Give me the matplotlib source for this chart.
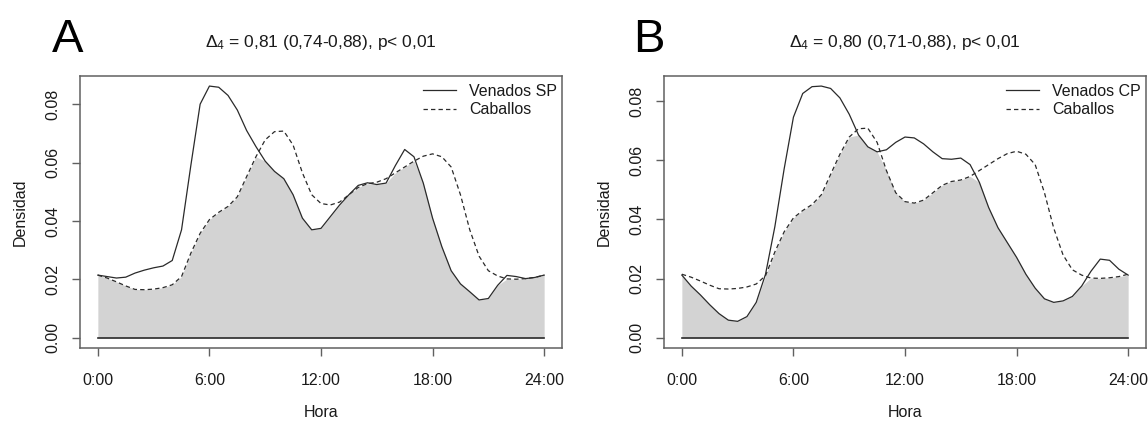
import numpy as np
import matplotlib
matplotlib.use("Agg")
import matplotlib.pyplot as plt

plt.rcParams["font.family"] = ["Liberation Sans", "DejaVu Sans"]
plt.rcParams["mathtext.fontset"] = "custom"
plt.rcParams["mathtext.rm"] = "Liberation Sans"
plt.rcParams["mathtext.it"] = "Liberation Sans:italic"

# hora del dia, cada media hora
hora = np.arange(0, 24.01, 0.5)

venados_sp = [0.0215, 0.0210, 0.0205, 0.0208, 0.0222, 0.0232, 0.0240, 0.0246,
              0.0265, 0.0370, 0.0590, 0.0800, 0.0862, 0.0858, 0.0830, 0.0780,
              0.0710, 0.0655, 0.0605, 0.0570, 0.0545, 0.0490, 0.0410, 0.0370,
              0.0375, 0.0415, 0.0455, 0.0490, 0.0522, 0.0531, 0.0525, 0.0530,
              0.0590, 0.0645, 0.0620, 0.0530, 0.0410, 0.0312, 0.0230, 0.0185,
              0.0158, 0.0130, 0.0135, 0.0180, 0.0214, 0.0210, 0.0203, 0.0207,
              0.0215]

venados_cp = [0.0212, 0.0175, 0.0145, 0.0112, 0.0082, 0.0060, 0.0056, 0.0072,
              0.0120, 0.0215, 0.0375, 0.0570, 0.0745, 0.0825, 0.0848, 0.0850,
              0.0842, 0.0810, 0.0755, 0.0685, 0.0645, 0.0628, 0.0635, 0.0660,
              0.0678, 0.0675, 0.0655, 0.0628, 0.0605, 0.0603, 0.0607, 0.0585,
              0.0525, 0.0440, 0.0372, 0.0322, 0.0272, 0.0215, 0.0168, 0.0132,
              0.0120, 0.0125, 0.0140, 0.0175, 0.0225, 0.0266, 0.0262, 0.0232,
              0.0212]

caballos = [0.0215, 0.0205, 0.0192, 0.0178, 0.0166, 0.0165, 0.0167, 0.0172,
            0.0182, 0.0210, 0.0290, 0.0358, 0.0405, 0.0430, 0.0450, 0.0483,
            0.0552, 0.0620, 0.0678, 0.0706, 0.0708, 0.0660, 0.0565, 0.0490,
            0.0460, 0.0455, 0.0465, 0.0490, 0.0515, 0.0528, 0.0533, 0.0545,
            0.0565, 0.0585, 0.0605, 0.0622, 0.0630, 0.0620, 0.0585, 0.0490,
            0.0370, 0.0280, 0.0230, 0.0212, 0.0202, 0.0201, 0.0203, 0.0207,
            0.0215]

xticks = [0, 6, 12, 18, 24]
xlabels = ["0:00", "6:00", "12:00", "18:00", "24:00"]
yticks = [0.00, 0.02, 0.04, 0.06, 0.08]

paneles = [
    ("A", "Venados SP", venados_sp, r"$\Delta_4$ = 0,81 (0,74-0,88), p< 0,01"),
    ("B", "Venados CP", venados_cp, r"$\Delta_4$ = 0,80 (0,71-0,88), p< 0,01"),
]

W, H = 1148, 421
fig = plt.figure(figsize=(W / 100, H / 100), dpi=100)

frame_col = "#606060"
line_col = "#2a2a2a"
txt_col = "#1a1a1a"

for i, (letra, nombre, venado, titulo) in enumerate(paneles):
    left_px = [80, 664][i]
    ax = fig.add_axes([left_px / W, (H - 348) / H, 482 / W, 272 / H])

    v = np.array(venado)
    c = np.array(caballos)
    m = max(v.max(), c.max())

    ax.fill_between(hora, 0, np.minimum(v, c), color="#d3d3d3", lw=0)
    ax.plot([0, 24], [0, 0], color=line_col, lw=1.2)
    ax.plot(hora, v, color=line_col, lw=0.9, label=nombre)
    ax.plot(hora, c, color=line_col, lw=0.9, ls=(0, (3.5, 2.5)), label="Caballos")

    ax.set_xlim(-0.96, 24.96)
    ax.set_ylim(-0.04 * m, 1.04 * m)
    ax.set_xticks(xticks)
    ax.set_xticklabels(xlabels)
    ax.set_yticks(yticks)
    ax.set_yticklabels(["%.2f" % t for t in yticks], rotation=90, va="center")

    for s in ax.spines.values():
        s.set_color(frame_col)
        s.set_linewidth(1.1)
    ax.tick_params(axis="both", colors=frame_col, length=6, width=1.0,
                   labelsize=11.5, labelcolor=txt_col)
    ax.tick_params(axis="x", pad=12)
    ax.tick_params(axis="y", pad=8)

    ax.set_xlabel("Hora", fontsize=11.5, color=txt_col, labelpad=12)
    ax.set_ylabel("Densidad", fontsize=11.5, color=txt_col, labelpad=13)

    ax.text(0.5, 1 + 33 / 272, titulo, transform=ax.transAxes, ha="center",
            va="center", fontsize=12.5, color=txt_col)

    letra_x = [52, 633][i]
    fig.text(letra_x / W, (H - 52) / H, letra, fontsize=34, color="black",
             ha="left", va="baseline")

    ax.legend(loc="upper right", bbox_to_anchor=(1 - 5 / 482, 1 - 8 / 272),
              frameon=False, fontsize=11.5, handlelength=2.1, handletextpad=0.8,
              labelspacing=0.2, borderpad=0, borderaxespad=0,
              labelcolor=txt_col)

fig.savefig("out.png", dpi=100)
